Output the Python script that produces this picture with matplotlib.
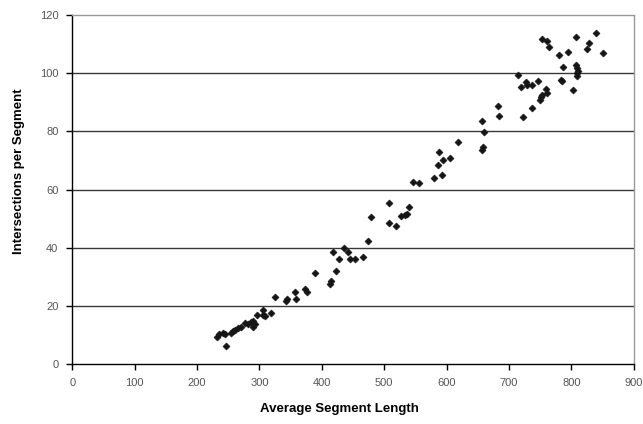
import matplotlib

matplotlib.use("Agg")
import matplotlib.pyplot as plt

plt.rcParams["font.family"] = ["Liberation Sans", "DejaVu Sans"]

# average segment length vs intersections per segment
seg_length = [
    231.5, 235.6, 241.1, 244.8, 246.4, 253.9, 257.1, 260.8, 266.1, 270.0,
    276.9, 282.1, 286.0, 289.2, 290.2, 292.9, 295.6, 306.2, 305.2, 308.9,
    318.0, 324.4, 342.6, 344.5, 357.0, 358.1, 373.0, 376.7, 389.0, 413.0,
    414.5, 418.4, 422.7, 427.5, 436.0, 442.5, 445.2, 453.2, 465.5, 474.0,
    479.3, 507.7, 508.2, 518.9, 526.9, 533.3, 536.0, 539.8, 546.7, 555.3,
    580.3, 586.7, 587.9, 592.7, 593.8, 605.0, 617.8, 656.5, 657.8, 657.3,
    660.5, 682.4, 684.0, 715.0, 718.8, 722.0, 726.8, 729.4, 736.5, 737.4,
    747.0, 749.8, 750.9, 753.4, 759.6, 760.5, 753.4, 760.5, 764.2, 780.5,
    783.4, 785.5, 787.1, 795.1, 802.2, 807.0, 807.0, 809.6, 811.2, 808.6,
    808.6, 825.6, 828.8, 839.5, 850.8,
]
intersections = [
    9.3, 10.3, 10.9, 10.4, 6.3, 10.6, 11.5, 11.8, 12.4, 12.7,
    14.3, 13.8, 14.6, 15.0, 12.9, 13.8, 16.9, 18.7, 16.9, 16.6,
    17.5, 23.0, 21.8, 22.3, 25.0, 22.3, 25.8, 24.8, 31.4, 27.5,
    28.5, 38.6, 32.0, 36.1, 40.1, 38.7, 36.3, 36.1, 36.8, 42.4,
    50.5, 48.6, 55.5, 47.6, 50.9, 51.3, 51.6, 53.9, 62.7, 62.4,
    64.0, 68.5, 72.8, 65.0, 70.2, 71.0, 76.3, 73.6, 74.8, 83.5,
    79.9, 88.8, 85.3, 99.5, 95.2, 84.9, 96.9, 95.9, 95.8, 88.2,
    97.4, 90.7, 91.8, 92.5, 94.5, 93.2, 111.8, 111.2, 109.1, 106.3,
    97.7, 97.3, 102.1, 107.4, 94.1, 112.5, 102.8, 101.7, 100.9, 100.0,
    99.2, 108.4, 110.5, 113.7, 107.0,
]
x_ticks = list(range(0, 901, 100))
y_ticks = list(range(0, 121, 20))

fig = plt.figure(figsize=(6.43, 4.24), dpi=100)
ax = fig.add_axes([0.1124, 0.1408, 0.8731, 0.8238])

ax.scatter(seg_length, intersections, marker="D", s=13, color="#151515",
           edgecolors="#151515", linewidths=0.4, zorder=3)

ax.set_xlim(0, 900)
ax.set_ylim(0, 120)
ax.set_xticks(x_ticks)
ax.set_yticks(y_ticks)

for y in y_ticks[1:-1]:
    ax.axhline(y, color="0.22", linewidth=1.0, zorder=1)

for side in ("top", "right"):
    ax.spines[side].set_linestyle((0, (1, 1)))
    ax.spines[side].set_color("0.6")
    ax.spines[side].set_linewidth(1.0)
for side in ("left", "bottom"):
    ax.spines[side].set_color("black")
    ax.spines[side].set_linewidth(1.0)

ax.tick_params(direction="out", length=4, width=1, color="black",
               labelsize=8, labelcolor="#555555", pad=6)

ax.set_xlabel("Average Segment Length", fontsize=9.5, fontweight="bold")
ax.set_ylabel("Intersections per Segment", fontsize=9.5, fontweight="bold")
ax.xaxis.set_label_coords(0.475, -0.112)
ax.yaxis.set_label_coords(-0.084, 0.553)

fig.savefig("out.png", dpi=100)
plt.close(fig)
